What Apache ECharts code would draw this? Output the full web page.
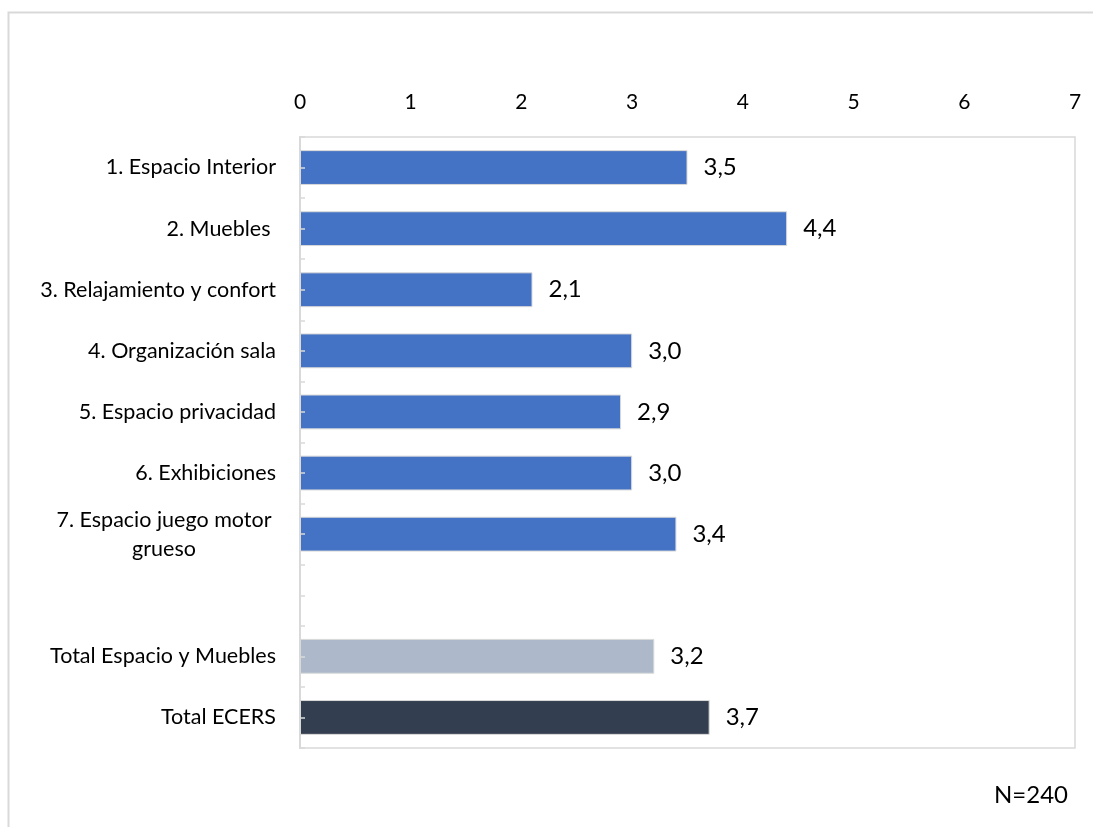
<!DOCTYPE html>
<html>
<head>
<meta charset="utf-8">
<style>
  html, body { margin: 0; padding: 0; background: #ffffff; }
  #chart { width: 1093px; height: 827px; }
</style>
<script src="https://cdn.jsdelivr.net/npm/echarts@6/dist/echarts.min.js"></script>
</head>
<body>
<div id="chart"></div>
<script>
// ECERS subscale means: Espacio y Muebles (blank row separates items from totals)
const categories = [
  '1. Espacio Interior',
  '2. Muebles ',
  '3. Relajamiento y confort',
  '4. Organización sala',
  '5. Espacio privacidad',
  '6. Exhibiciones',
  '7. Espacio juego motor grueso',
  '',
  'Total Espacio y Muebles',
  'Total ECERS'
];
const values = [3.5, 4.4, 2.1, 3.0, 2.9, 3.0, 3.4, null, 3.2, 3.7];
const xTicks = [0, 1, 2, 3, 4, 5, 6, 7];
const sampleNote = 'N=240';

const FONT = 'Lato, "Open Sans", sans-serif';
const itemBlue = '#4472C4';
const totalColors = { 'Total Espacio y Muebles': '#ADB9CA', 'Total ECERS': '#333F50' };
const frame = '#d9d9d9';

const chart = echarts.init(document.getElementById('chart'), null, { renderer: 'canvas' });

chart.setOption({
  backgroundColor: '#ffffff',
  animation: false,
  grid: {
    left: 300, top: 137, right: 18, bottom: 79,
    show: true, borderColor: frame, borderWidth: 1.5, backgroundColor: 'transparent'
  },
  xAxis: {
    type: 'value',
    position: 'top',
    min: xTicks[0],
    max: xTicks[xTicks.length - 1],
    interval: 1,
    splitLine: { show: false },
    axisLine: { show: false },
    axisTick: { show: false },
    axisLabel: {
      color: '#000000', fontFamily: FONT, fontSize: 21, margin: 24,
      formatter: v => String(v)
    }
  },
  yAxis: [
    {
      type: 'category',
      inverse: true,
      data: categories,
      axisLine: { show: true, lineStyle: { color: frame, width: 2 } },
      axisTick: { show: true, inside: true, length: 5, interval: 0, lineStyle: { color: frame, width: 1.5 } },
      axisLabel: {
        interval: 0,
        margin: 24,
        color: '#000000',
        fontFamily: FONT,
        fontSize: 21.5,
        formatter: function (name) {
          if (name === '7. Espacio juego motor grueso') {
            return '{w|7. Espacio juego motor}\n{w|grueso}';
          }
          return name;
        },
        rich: {
          w: { width: 224, align: 'center', fontFamily: FONT, fontSize: 21.5, color: '#000000', lineHeight: 29 }
        }
      }
    },
    {
      // ticks at the centre of each row, drawn over the bars
      type: 'category',
      inverse: true,
      data: categories,
      z: 5,
      position: 'left',
      axisLine: { show: false },
      axisTick: { show: true, inside: true, length: 5, alignWithLabel: true, interval: 0, lineStyle: { color: frame, width: 1.5 } },
      axisLabel: { show: false }
    }
  ],
  series: [{
    type: 'bar',
    yAxisIndex: 0,
    data: values,
    barCategoryGap: '43%',
    itemStyle: {
      borderColor: frame,
      borderWidth: 1,
      color: function (p) { return totalColors[p.name] || itemBlue; }
    },
    label: {
      show: true,
      position: 'right',
      distance: 16,
      color: '#000000',
      fontFamily: FONT,
      fontSize: 24,
      formatter: p => p.value == null ? '' : p.value.toFixed(1).replace('.', ',')
    }
  }],
  graphic: [
    {
      type: 'rect',
      shape: { x: 8.5, y: 12.5, width: 1200, height: 900 },
      style: { fill: 'none', stroke: frame, lineWidth: 2 },
      silent: true
    },
    {
      type: 'text',
      right: 25,
      top: 783,
      style: { text: sampleNote, font: '24px ' + FONT, fill: '#000000' }
    }
  ]
});
</script>
</body>
</html>
